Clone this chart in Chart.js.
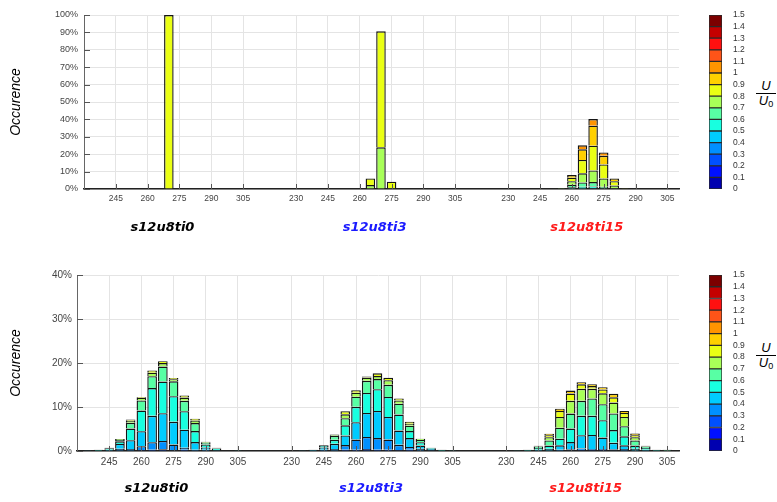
<!DOCTYPE html>
<html>
<head>
<meta charset="utf-8">
<script src="https://cdn.jsdelivr.net/npm/chart.js@4"></script>
<style>
body{margin:0;background:#fff;width:777px;height:502px;overflow:hidden;position:relative;font-family:"Liberation Sans",Arial,sans-serif}
canvas{position:absolute}
.frac{position:absolute;width:20px;text-align:center;font-family:"Liberation Sans",Arial,sans-serif;font-style:italic;font-size:13px;color:#000}
.frac .num{border-bottom:1.5px solid #000;line-height:12px;padding-bottom:1px}
.frac .den{line-height:13px}
.frac sub{font-size:9px;font-style:normal;vertical-align:-2px}
</style>
</head>
<body>
<canvas id="topChart" width="700" height="250" style="left:0;top:0"></canvas>
<canvas id="topBar" width="50" height="250" style="left:700px;top:0"></canvas>
<canvas id="botChart" width="700" height="240" style="left:0;top:262px"></canvas>
<canvas id="botBar" width="50" height="240" style="left:700px;top:262px"></canvas>
<div class="frac" style="left:756px;top:80px"><div class="num">U</div><div class="den">U<sub>0</sub></div></div>
<div class="frac" style="left:756px;top:342px"><div class="num">U</div><div class="den">U<sub>0</sub></div></div>
<script>
// wind direction bins (deg) and U/U0 classes
const DIRS = [230,235,240,245,250,255,260,265,270,275,280,285,290,295,300,305,310];
const U_EDGES = [0,0.1,0.2,0.3,0.4,0.5,0.6,0.7,0.8,0.9,1,1.1,1.2,1.3,1.4,1.5];
const U_COLORS = ["#0000b0","#0010ff","#0050ff","#0090ff","#00ccff","#18ffe0","#58ffa4","#a8ff58","#eaff14","#ffd000","#ff9400","#ff5418","#ff1010","#c40000","#7c0000"];
const GROUPS = ["s12u8ti0","s12u8ti3","s12u8ti15"];
const GROUP_COLORS = ["#000000","#1a1aff","#ff1a1a"];
const TICKS_FIRST = [245,260,275,290,305];
const TICKS_OTHER = [230,245,260,275,290,305];
const LABEL_DIR = 267;
const GROUP_STEP = 100;

// occurrence (%) per direction bin, split by U/U0 class (index = class, missing = 0)
// top row
const TOP_TI0 = [[],[],[],[],[],[],[],[],
  [0,0,0,0,0,0,0,0,100],
  [],[],[],[],[],[],[],[]];
const TOP_TI3 = [[],[],[],[],[],[],[],
  [0,0,0,0,0,0,0,2.3,3.8],
  [0,0,0,0,0,0,0,24,66.6],
  [0,0,0,0,0,0,0,0.6,3.6],
  [],[],[],[],[],[],[]];
const TOP_TI15 = [[],[],[],[],[],
  [0,0,0,0,0,0,0.1,0.1,0.1],
  [0,0,0,0,0,1,1.5,2,2,1.5],
  [0,0,0,0,0,1.3,2.5,5.2,7.7,6.1,2.3],
  [0,0,0,0,0.5,1,2.5,6.7,14.2,11.5,3.8],
  [0,0,0,0,0,0.5,0.8,4.8,8,5,1.9],
  [0,0,0,0,0,0,0.5,1.5,2.5,1.6],
  [0,0,0,0,0,0,0,0.15,0.15],
  [],[],[],[],[]];
// bottom row
const BOT_TI0 = [[],
  [0,0,0,0,0.05],
  [0,0,0,0,0,0.3],
  [0,0,0,0,0.3,0.3,0.15],
  [0,0,0,0.5,1.1,0.6,0.3,0.2],
  [0,0,0,0.45,2.0,2.65,1.3,0.45,0.3],
  [0,0,0.2,0.9,3.4,4.7,2.3,0.6,0.2],
  [0,0,0.3,1.7,6.0,6.3,2.7,0.8,0.5],
  [0,0.1,0.3,1.9,6.3,7.2,3.4,0.8,0.4],
  [0,0,0.15,1.3,5.2,5.8,3.4,0.45,0.3],
  [0,0,0.3,0.45,4.1,4.2,2.35,0.75,0.45],
  [0,0,0,0.3,1.75,2.5,1.8,0.6,0.4],
  [0,0,0,0.3,0.5,0.7,0.4,0.2],
  [0,0,0,0,0.25,0.3,0.2],
  [0,0,0,0,0,0.1],
  [0,0,0,0,0,0.05],
  []];
const BOT_TI3 = [[],
  [0,0,0,0,0.05],
  [0,0,0,0,0.3],
  [0,0,0,0.3,0.5,0.5],
  [0,0,0,0.45,1.2,0.9,0.9,0.3],
  [0,0,0.3,1.05,2.2,2.3,1.6,0.9,0.7],
  [0,0,0.3,2.3,3.95,3.5,2.3,0.9,0.55],
  [0,0,0.45,2.75,5.45,4.55,2.75,0.75,0.25],
  [0,0,0.3,2.65,6.15,4.95,2.3,0.7,0.6],
  [0,0,0.3,2.3,5.15,4.55,2.75,1.05,0.55],
  [0,0,0.2,1.2,3.25,3.65,2.45,0.75,0.45],
  [0,0,0.3,0.6,2.05,1.6,1.2,0.45,0.45],
  [0,0,0,0.5,0.75,0.75,0.5,0.3],
  [0,0,0,0.2,0.3,0.25],
  [0,0,0,0,0,0.3],
  [0,0,0,0,0,0.05],
  []];
const BOT_TI15 = [[],
  [0,0,0,0,0,0.05],
  [0,0,0,0,0,0.3],
  [0,0,0,0,0.3,0.4,0.3,0.2],
  [0,0,0,0,0.5,0.75,1.15,0.75,0.45,0.3],
  [0,0,0,0.3,1.0,1.5,2.5,2.45,1.35,0.5],
  [0,0,0.15,0.25,1.65,3.05,3.4,2.9,1.65,0.7],
  [0,0,0.2,0.35,3.05,4.4,3.4,2.75,1.0,0.45],
  [0,0,0.2,0.25,3.2,4.35,3.95,2.2,0.6,0.4],
  [0,0,0.2,0.25,2.6,3.95,3.65,2.45,0.9,0.5],
  [0,0,0.15,0.25,1.45,2.9,3.8,2.45,1.2,0.8],
  [0,0,0,0.45,0.85,2.05,2.3,2.1,0.9,0.45],
  [0,0,0,0,0.5,0.75,1.15,0.75,0.45,0.35],
  [0,0,0,0,0.3,0.4,0.3,0.2],
  [0,0,0,0,0,0.3],
  [0,0,0,0,0,0,0.3],
  []];

const FONT = "'Liberation Sans', Arial, sans-serif";

// position on the shared x axis: each group gets its own 100-unit slot
function xPos(g, dir){ return g*GROUP_STEP + dir - DIRS[0]; }

function buildDatasets(groupRows){
  return U_COLORS.map((c,k)=>{
    const pts = [];
    groupRows.forEach((rows,g)=>{
      rows.forEach((row,i)=>{
        const v = row[k] || 0;
        if(v>0) pts.push({x:xPos(g,DIRS[i]), y:v});
      });
    });
    return {label:U_EDGES[k]+"-"+U_EDGES[k+1], data:pts, backgroundColor:c,
      borderColor:"#151515", borderWidth:1.4, barPercentage:0.9, categoryPercentage:1};
  });
}

// small tick marks drawn inside the plot area
const innerTicks = {
  id:"innerTicks",
  afterDatasetsDraw(chart){
    const {ctx, chartArea:a, scales:{x,y}} = chart;
    ctx.save();
    ctx.strokeStyle = "#555"; ctx.lineWidth = 1;
    y.ticks.forEach(t=>{
      const py = Math.round(y.getPixelForValue(t.value))+0.5;
      ctx.beginPath(); ctx.moveTo(a.left,py); ctx.lineTo(a.left+6,py); ctx.stroke();
    });
    x.ticks.forEach(t=>{
      const px = Math.round(x.getPixelForValue(t.value))+0.5;
      ctx.beginPath(); ctx.moveTo(px,a.bottom); ctx.lineTo(px,a.bottom-5); ctx.stroke();
    });
    ctx.restore();
  }
};

// case names under each group
const groupLabels = {
  id:"groupLabels",
  afterDraw(chart, args, opts){
    const {ctx, scales:{x}} = chart;
    ctx.save();
    ctx.font = "italic bold 13px 'DejaVu Sans', sans-serif";
    ctx.textAlign = "center"; ctx.textBaseline = "middle";
    GROUPS.forEach((name,g)=>{
      ctx.fillStyle = GROUP_COLORS[g];
      ctx.fillText(name, x.getPixelForValue(xPos(g,LABEL_DIR)), opts.y);
    });
    ctx.restore();
  }
};

function mainChart(id, groupRows, yMax, o){
  return new Chart(document.getElementById(id), {
    type:"bar",
    data:{datasets:buildDatasets(groupRows)},
    options:{
      responsive:false, animation:false,
      layout:{padding:{top:o.top, right:21, left:0, bottom:0}},
      plugins:{legend:{display:false}, tooltip:{enabled:false}, groupLabels:{y:o.labelY}},
      scales:{
        x:{type:"linear", stacked:true, offset:false, min:0, max:280.5,
          grid:{offset:false, color:"#e4e4e4", drawTicks:false},
          border:{color:"#222", width:1.5},
          ticks:{autoSkip:false, maxRotation:0, padding:5, color:"#444",
            font:{family:FONT, size:o.xfs}, callback:v=>(v % GROUP_STEP) + DIRS[0]},
          afterBuildTicks:s=>{
            const t = [];
            TICKS_FIRST.forEach(d=>t.push({value:xPos(0,d)}));
            [1,2].forEach(g=>TICKS_OTHER.forEach(d=>t.push({value:xPos(g,d)})));
            s.ticks = t;
          },
          afterFit:s=>{ s.height = o.xh; }
        },
        y:{stacked:true, min:0, max:yMax,
          grid:{color:"#e4e4e4", drawTicks:false},
          border:{color:"#666", width:1},
          ticks:{stepSize:10, padding:o.ypad, color:"#444", font:{family:FONT, size:o.yfs}, callback:v=>v+"%"},
          title:{display:true, text:"Occurence", color:"#000", padding:{top:8, bottom:0},
            font:{family:FONT, size:14, style:"italic"}},
          afterFit:s=>{ s.width = o.yw; }
        }
      }
    },
    plugins:[innerTicks, groupLabels]
  });
}

function colorBar(id, padTop, padBottom){
  return new Chart(document.getElementById(id), {
    type:"bar",
    data:{labels:[""], datasets:U_COLORS.map((c,k)=>({
      data:[U_EDGES[k+1]-U_EDGES[k]], backgroundColor:c, borderColor:"#2a2a2a",
      borderWidth:1, borderSkipped:false, barPercentage:1, categoryPercentage:1
    }))},
    options:{
      responsive:false, animation:false,
      layout:{padding:{left:9, top:padTop, bottom:padBottom, right:0}},
      plugins:{legend:{display:false}, tooltip:{enabled:false}},
      scales:{
        x:{display:false, stacked:true},
        y:{position:"right", stacked:true, min:0, max:1.5,
          grid:{display:false}, border:{display:false},
          ticks:{autoSkip:false, padding:3, color:"#333", font:{family:FONT, size:8.5},
            callback:v=>String(+v.toFixed(1))},
          afterBuildTicks:s=>{ s.ticks = U_EDGES.map(v=>({value:v})); },
          afterFit:s=>{ s.width = 28; }
        }
      }
    }
  });
}

mainChart("topChart", [TOP_TI0, TOP_TI3, TOP_TI15], 100,
  {top:15, xh:61, yw:84, ypad:6, xfs:8.5, yfs:9, labelY:228});
mainChart("botChart", [BOT_TI0, BOT_TI3, BOT_TI15], 40,
  {top:13, xh:51, yw:77, ypad:5, xfs:10, yfs:10, labelY:227});
colorBar("topBar", 15, 61);
colorBar("botBar", 13, 51);
</script>
</body>
</html>
